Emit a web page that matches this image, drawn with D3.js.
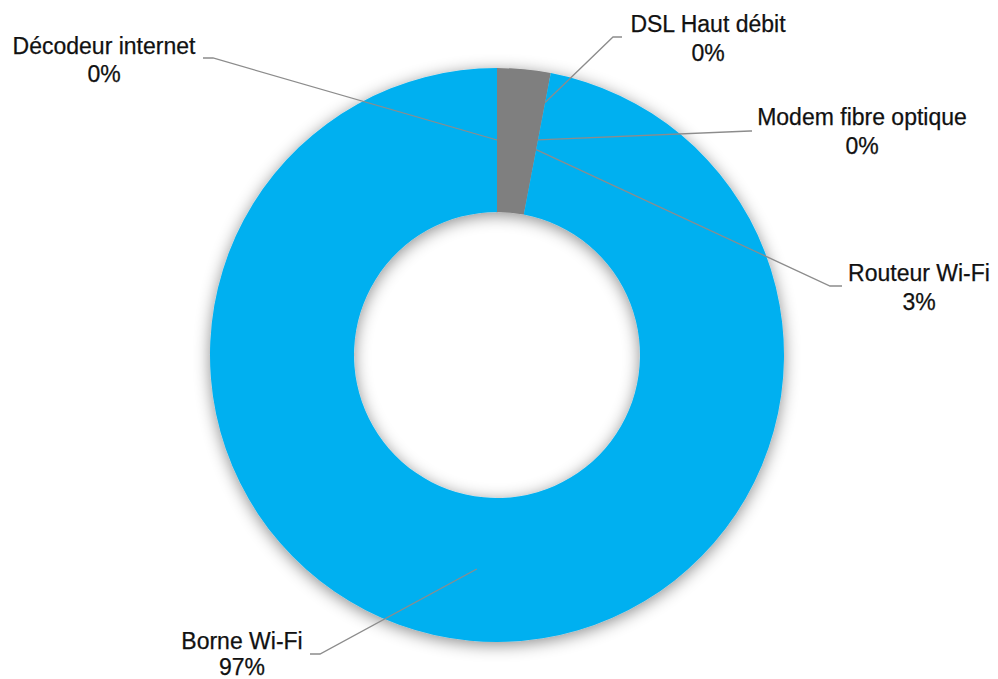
<!DOCTYPE html>
<html>
<head>
<meta charset="utf-8">
<script src="https://cdn.jsdelivr.net/npm/d3@7"></script>
<style>
  html, body { margin: 0; padding: 0; background: #ffffff; }
  svg { display: block; }
  text { font-family: "Liberation Sans", Arial, Helvetica, sans-serif; fill: #111; stroke: #111; stroke-width: 0.25px; }
</style>
</head>
<body>
<svg id="chart" width="998" height="679"></svg>
<script>
// Equipment categories and their shares (percent)
const categories = ["Décodeur internet", "Routeur Wi-Fi", "Modem fibre optique", "DSL Haut débit", "Borne Wi-Fi"];
const values = [0, 3, 0, 0, 97];
const colors = ["#7F7F7F", "#7F7F7F", "#7F7F7F", "#7F7F7F", "#00B0F0"];

// Label placement: text centre, gap between name and percentage, leader bend points,
// and where the leader meets the ring
const labelLayout = [
  { x: 104, y: 46,    gap: 27.5, bends: [[213, 58], [203, 58]],   anchorAt: "mid", anchorR: 215 },
  { x: 919, y: 272.5, gap: 29,   bends: [[830, 286], [842, 286]], anchorAt: "end", anchorR: 209 },
  { x: 862, y: 117,   gap: 28.5, bends: [[750, 131], [752, 131]], anchorAt: "mid", anchorR: 219 },
  { x: 708, y: 23.5,  gap: 29,   bends: [[613, 37], [622, 37]],   anchorAt: "mid", anchorR: 257 },
  { x: 242, y: 640.5, gap: 26,   bends: [[320, 654], [310, 654]], anchorAt: "mid", anchorR: 215 }
];

const cx = 497, cy = 355, outerR = 287, innerR = 143;
const fontSize = 23;

const svg = d3.select("#chart");

const defs = svg.append("defs");
const shadow = defs.append("filter").attr("id", "soft-shadow")
  .attr("x", "-20%").attr("y", "-20%").attr("width", "140%").attr("height", "140%");
shadow.append("feDropShadow")
  .attr("dx", 0).attr("dy", 3).attr("stdDeviation", 8)
  .attr("flood-color", "#000").attr("flood-opacity", 0.45);

const data = categories.map((c, i) => ({ name: c, value: values[i], color: colors[i], layout: labelLayout[i] }));

const pie = d3.pie().sort(null).value(d => d.value).startAngle(0).endAngle(2 * Math.PI);
const arcs = pie(data);
const arc = d3.arc().innerRadius(innerR).outerRadius(outerR);

const g = svg.append("g").attr("transform", `translate(${cx},${cy})`);

g.append("g").attr("filter", "url(#soft-shadow)")
  .selectAll("path")
  .data(arcs.filter(a => a.data.value > 0))
  .join("path")
  .attr("d", arc)
  .attr("fill", d => d.data.color);

function polar(angle, r) {
  return [cx + r * Math.sin(angle), cy - r * Math.cos(angle)];
}

const fmt = v => Math.round(v) + "%";

const labels = svg.append("g");
arcs.forEach(a => {
  const L = a.data.layout;
  const ang = L.anchorAt === "end" ? a.endAngle : (a.startAngle + a.endAngle) / 2;
  const p0 = polar(ang, L.anchorR);
  const pts = [p0].concat(L.bends);
  labels.append("path")
    .attr("d", d3.line()(pts))
    .attr("fill", "none")
    .attr("stroke", "#8C8C8C")
    .attr("stroke-width", 1.3);

  const t = labels.append("text")
    .attr("text-anchor", "middle")
    .attr("font-size", fontSize);
  t.append("tspan").attr("x", L.x).attr("y", L.y + 8).text(a.data.name);
  t.append("tspan").attr("x", L.x).attr("y", L.y + 8 + L.gap).text(fmt(a.data.value));
});
</script>
</body>
</html>
